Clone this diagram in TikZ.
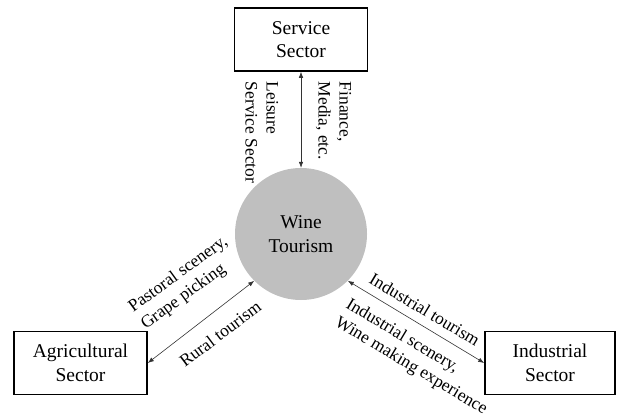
\documentclass[tikz,border=0pt]{standalone}
\usepackage{fontspec}
\setmainfont{Liberation Serif}
\usetikzlibrary{arrows.meta}

\begin{document}
\begin{tikzpicture}[x=1pt,y=-1pt,
        sector/.style={draw, line width=1.6pt, minimum width=133pt, minimum height=63pt, align=center, font=\fontsize{19.5}{23.5}\selectfont},
        link/.style={{Latex[length=6pt,width=4.5pt]}-{Latex[length=6pt,width=4.5pt]}, line width=0.6pt, draw=black!80},
        lbl/.style={inner sep=0pt, align=left, font=\fontsize{17.5}{21}\selectfont}]
        \useasboundingbox (0,0) rectangle (617,417);

        \node[circle, fill=black!25, minimum size=132pt, inner sep=0pt, align=center, font=\fontsize{19.5}{23.5}\selectfont] (wt) at (301,234) {Wine\\Tourism};
        \node[sector] (svc) at (301,39.5) {Service\\Sector};
        \node[sector] (agr) at (80.5,363) {Agricultural\\Sector};
        \node[sector, minimum width=130pt] (ind) at (550,363) {Industrial\\Sector};

        \draw[link] (svc) -- (wt);
        \draw[link] (agr.east) -- (wt.225);
        \draw[link] (wt.-45) -- (ind.west);

        \node[lbl, rotate=-90, anchor=north west] (leis) at (278.5,81.5) {Leisure\\Service Sector};
        \node[lbl, rotate=-90, anchor=north west] (fin) at (351.5,81.5) {Finance,\\Media, etc.};
        \node[lbl, rotate=36, anchor=north west] (past) at (126,302.8) {Pastoral scenery,\\Grape picking};
        \node[lbl, rotate=37, anchor=base west] (rur) at (185,368) {Rural tourism};
        \node[lbl, rotate=-31, anchor=base west] (itour) at (368,282.5) {Industrial tourism};
        \node[lbl, rotate=-31, anchor=north west] (iscen) at (351.2,296.4) {Industrial scenery,\\Wine making experience};
    \end{tikzpicture}
\end{document}
